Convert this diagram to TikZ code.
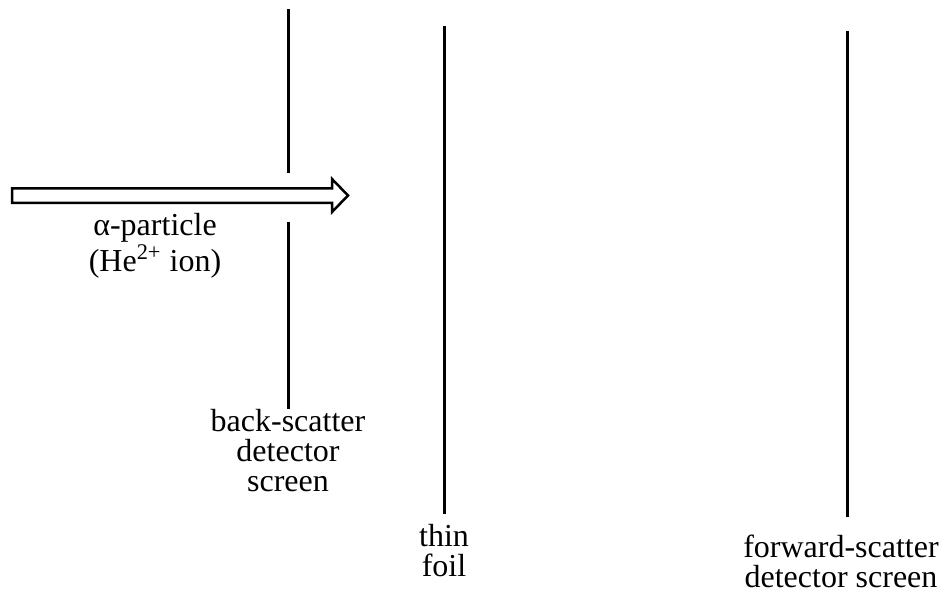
\documentclass[tikz,border=0pt]{standalone}
\usepackage{fontspec}
\setmainfont{Liberation Serif}
\usetikzlibrary{positioning}

\begin{document}
\begin{tikzpicture}[x=0.5pt, y=-0.5pt,
                    screen line/.style={line width=1.5pt},
                    label text/.style={font=\fontsize{16}{15}\selectfont, align=center, inner sep=0pt}]
  \useasboundingbox (0,0) rectangle (946,592);

  % back-scatter detector screen, with a gap for the beam
  \coordinate (back top) at (288,9);
  \coordinate (back gap1) at (288,173);
  \coordinate (back gap2) at (288,222);
  \coordinate (back end) at (288,409);
  \draw[screen line] (back top) -- (back gap1);
  \draw[screen line] (back gap2) -- (back end);
  \node[label text] (back label) [below=0pt of back end] {back-scatter\\detector\\screen};

  % thin foil
  \coordinate (foil top) at (444,26);
  \coordinate (foil end) at (444,514);
  \draw[screen line] (foil top) -- (foil end);
  \node[label text] (foil label) [below=5pt of foil end] {thin\\foil};

  % forward-scatter detector screen
  \coordinate (fwd top) at (847,31);
  \coordinate (fwd end) at (847,517);
  \draw[screen line] (fwd top) -- (fwd end);
  \node[label text] (fwd label) [below=9pt of fwd end, xshift=-3pt] {forward-scatter\\detector screen};

  % alpha beam
  \draw[line width=1.25pt] (12,188.5) -- (332,188.5) -- (332,179) -- (348,195.5)
    -- (332,212) -- (332,203) -- (12,203) -- cycle;
  \coordinate (beam label) at (155,213);
  \node[label text, anchor=north] (alpha label) at (beam label) {α-particle\\(He\textsuperscript{2+} ion)};
\end{tikzpicture}
\end{document}
